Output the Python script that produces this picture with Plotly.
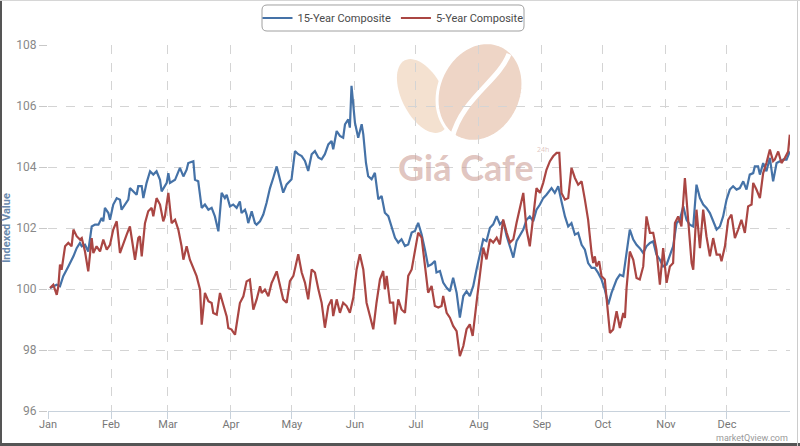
import numpy as np
import plotly.graph_objects as go

# ---------------- data (day of year, indexed value) ----------------
series_15yr = [
    (1.0,100.03),(4.3,100.14),(5.9,100.09),(7.5,100.42),(10.0,100.74),(12.5,101.07),(14.1,101.34),
    (15.7,101.51),(16.6,101.40),(18.2,101.45),(19.8,101.23),(21.5,102.05),(23.1,102.11),(24.8,102.11),
    (26.4,102.33),(27.2,102.22),(28.0,102.66),(29.7,102.49),(30.5,102.27),(32.1,102.77),(33.8,102.98),
    (35.4,102.93),(36.2,102.60),(37.9,102.77),(39.5,102.93),(40.3,103.31),(42.0,103.20),(43.6,103.09),
    (44.4,103.37),(46.1,103.37),(46.9,102.98),(48.5,103.48),(50.2,103.86),(51.8,103.75),(53.4,103.86),
    (55.1,103.58),(55.9,103.20),(58.4,103.48),(59.2,103.80),(60.0,103.48),(62.5,103.58),(64.9,103.97),
    (66.6,103.69),(68.2,103.91),(69.0,104.13),(71.5,104.19),(72.3,103.58),(73.9,103.53),(75.6,102.66),
    (77.2,102.77),(78.9,102.60),(80.5,102.66),(82.1,102.38),(83.8,101.89),(85.4,103.15),(87.0,102.98),
    (87.9,103.09),(89.5,102.71),(91.1,102.77),(92.8,102.66),(94.4,102.87),(95.2,102.49),(96.9,102.60),
    (97.7,102.44),(98.5,102.16),(100.2,102.55),(101.8,102.16),(102.6,102.11),(104.3,102.22),(105.9,102.44),
    (107.5,102.82),(109.2,103.31),(110.8,103.64),(112.5,104.02),
    (115.7,103.16),(117.4,103.43),(119.8,103.60),(121.5,104.52),(123.1,104.42),(124.8,104.36),(126.4,104.20),
    (128.0,103.87),(129.7,104.42),(131.3,104.52),(133.0,104.31),(134.6,104.25),(136.2,104.42),(137.9,104.74),
    (139.5,104.85),(140.3,104.58),(142.0,105.18),(143.6,105.02),(145.2,104.96),(146.1,105.40),(147.7,105.56),
    (148.5,105.29),(149.3,106.66),(150.2,106.00),(151.0,105.45),(152.6,104.96),(154.3,105.40),(155.1,105.07),
    (156.4,104.14),(157.5,103.70),(159.2,103.60),(160.8,103.81),(162.5,102.94),(164.1,103.05),(165.7,102.50),
    (167.4,102.39),(169.0,102.07),(170.7,101.68),(172.3,101.52),(173.9,101.63),(175.6,101.41),(177.2,101.46),
    (178.9,101.85),(180.5,101.90),(182.1,102.17),(183.8,101.79),(185.4,101.30),(187.0,100.75),(188.7,100.81),
    (190.3,100.92),(191.1,100.54),(192.8,100.59),(194.4,100.21),(196.1,100.04),(197.7,99.93),(199.3,100.37),
    (201.0,99.88),(202.6,99.06),(204.3,99.77),(205.9,99.93),(207.5,99.77),(209.2,100.10),(210.8,100.64),
    (212.5,101.14),(214.1,101.63),(215.7,101.57),(217.4,102.01),(219.0,102.12),(220.7,102.39),(222.3,102.12),
    (223.9,102.23),(225.6,101.74),(227.2,101.36),(228.9,101.03),(230.5,101.57),
    (233.8,101.95),(235.4,102.27),(237.0,102.38),(238.7,102.22),(240.3,102.60),(242.0,102.77),(243.6,102.98),
    (245.2,103.09),(247.7,103.31),(249.3,103.15),(251.0,103.37),(252.6,102.87),(254.3,102.38),(255.9,102.05),
    (257.5,102.16),(259.2,101.78),(260.8,101.84),(262.5,101.45),(264.1,101.29),(265.7,100.85),(267.4,100.69),
    (269.0,100.69),(270.7,100.52),(272.3,100.31),(273.9,99.98),(275.6,99.49),(277.2,99.87),(279.7,100.31),
    (281.3,100.47),(283.0,100.42),(284.6,101.18),(286.2,101.95),(287.9,101.62),(289.5,101.45),(291.1,101.34),
    (292.8,101.18),(294.4,101.40),(296.1,101.51),(297.7,101.56),(299.3,101.13),(301.0,100.96),(302.6,100.74),
    (304.3,100.80),(305.9,101.13),(307.5,101.40),(309.2,102.16),(310.8,102.27),(312.5,102.71),(314.1,102.27),
    (315.7,102.11),(317.4,102.05),(319.0,103.42),(320.7,102.98),(322.3,102.77),(323.9,102.66),(325.6,102.49),
    (327.2,102.22),(328.9,101.95),(330.5,102.05),(332.1,102.38),(333.8,102.93),(335.4,103.26),(337.0,103.37),
    (338.7,103.26),(340.3,103.31),(342.0,103.53),(343.6,103.26),(345.2,103.75),(346.9,103.80),(347.7,104.02),
    (349.3,104.02),(350.2,103.75),(351.8,104.13),(353.4,103.86),(355.1,104.30),(356.7,103.53),(358.4,104.13),
    (360.0,104.19),(361.6,104.24),(363.3,104.24),(364.9,104.51),
]

series_5yr = [
    (1.0,100.03),(2.6,100.14),(4.3,99.81),(5.1,100.09),(5.9,100.80),(6.7,100.63),(8.4,101.40),(10.0,101.51),
    (11.6,101.40),(12.5,101.95),(14.1,101.73),(15.7,101.62),(16.6,101.67),(18.2,101.23),(19.8,100.58),
    (21.5,101.67),(22.3,101.18),(23.9,101.40),(25.6,101.23),(27.2,101.62),(28.9,101.29),(30.5,101.45),
    (32.1,101.95),(33.8,102.22),(35.4,101.18),(37.0,101.51),(38.7,101.78),(40.3,102.05),(42.0,101.40),
    (42.8,100.96),(44.4,101.67),(45.2,101.73),(46.1,101.07),(47.7,102.16),(49.3,102.55),(51.0,102.66),
    (51.8,102.38),(53.4,102.98),(55.1,102.77),(56.7,102.22),(57.5,102.38),(59.2,103.15),(60.8,102.16),
    (62.5,102.27),(64.1,101.95),(65.7,101.40),(66.6,100.96),(68.2,101.40),(69.8,100.96),(71.5,100.69),
    (73.1,100.42),(74.8,99.98),(75.6,98.83),(77.2,99.87),(78.9,99.60),(80.5,99.54),(81.3,99.21),(83.0,99.16),
    (84.6,99.87),(86.2,99.49),(87.9,99.10),(88.7,98.72),(90.3,98.67),(92.0,98.50),(93.6,99.32),(94.4,99.54),
    (96.1,99.76),(97.7,100.25),(99.3,100.31),(101.0,99.32),(102.6,99.65),(104.3,100.09),(105.1,99.87),
    (106.7,99.98),(108.4,99.76),(110.0,100.20),(110.8,100.31),(112.5,100.58),
    (115.7,99.66),(117.4,99.55),(119.0,100.26),(120.7,100.43),(123.1,101.14),(124.8,100.54),(126.4,100.21),
    (128.0,99.66),(129.7,100.64),(131.3,100.54),(133.0,99.99),(134.6,99.55),(136.2,98.73),(137.9,99.44),
    (139.5,99.66),(140.3,99.11),(142.0,99.66),(143.6,99.22),(145.2,99.55),(146.9,99.44),(148.5,99.22),
    (150.2,99.72),(151.8,100.64),(153.4,101.14),(155.1,100.64),(156.7,99.55),(158.4,99.11),(160.0,98.68),
    (161.6,99.55),(163.3,100.32),(164.9,100.59),(165.7,99.99),(166.6,100.43),(168.2,99.55),(169.8,99.55),
    (170.7,98.84),(172.3,99.66),(173.9,99.33),(175.6,99.22),(177.2,100.43),(178.9,100.64),(180.5,101.25),
    (182.1,101.85),(183.8,101.68),(185.4,100.75),(187.0,99.88),(188.7,100.10),(190.3,99.44),(192.0,99.39),
    (193.6,99.44),(194.4,99.77),(196.1,99.22),(197.7,99.06),(199.3,98.79),(201.0,98.62),(202.6,97.80),
    (204.3,98.13),(205.9,98.68),(207.5,98.84),(208.9,98.46),(210.8,99.55),(212.5,100.54),(214.1,101.36),
    (215.7,100.97),(217.4,101.63),(219.0,101.52),(220.7,101.68),(222.3,101.46),(223.9,102.28),(225.6,101.85),
    (227.2,101.52),(228.9,101.63),(230.5,102.17),
    (233.8,103.15),(235.4,101.95),(237.0,101.40),(238.7,102.49),(240.3,103.31),(242.0,103.15),(243.6,103.48),
    (245.2,103.91),(246.9,104.19),(248.5,104.35),(250.2,104.46),(251.5,104.46),(252.6,103.15),(254.3,102.93),
    (255.9,102.98),(257.5,103.97),(259.2,103.64),(260.8,103.42),(262.5,103.53),(264.1,102.93),(265.7,102.27),
    (267.4,101.18),(268.2,100.85),(269.0,101.07),(269.8,100.74),(271.1,100.91),(272.3,100.42),(273.9,100.31),
    (274.8,99.60),(276.4,98.56),(278.0,98.67),(279.7,99.27),(281.3,98.72),(283.0,99.21),(283.8,99.05),
    (284.6,100.03),(286.2,101.23),(287.9,100.96),(289.5,100.36),(291.1,100.31),(292.8,100.74),(294.4,102.38),
    (296.1,101.84),(297.7,101.84),(299.3,101.29),(301.0,100.14),(302.6,101.34),(304.3,100.20),(305.9,100.74),
    (307.5,100.85),(308.4,102.16),(310.0,102.38),(311.6,102.05),(313.3,103.64),(314.9,102.27),(316.6,100.85),
    (317.4,100.63),(319.0,102.60),(320.7,101.34),(322.3,102.60),(323.9,101.73),(325.6,101.07),(327.2,101.67),
    (328.9,101.13),(330.5,101.13),(331.3,100.91),(333.0,101.40),(334.6,102.27),(336.2,102.44),(337.9,101.67),
    (339.5,101.95),(341.1,102.27),(342.8,101.84),(344.4,102.71),(346.1,102.77),(346.9,103.48),(348.5,103.26),
    (350.2,102.98),(351.8,103.80),(353.4,104.13),(355.1,104.57),(356.7,104.19),(357.5,104.24),(359.2,104.51),
    (360.8,104.13),(362.5,104.30),(364.1,104.51),(364.9,105.06),
]

month_starts = [0, 31, 59, 90, 120, 151, 181, 212, 243, 273, 304, 334]
month_labels = ["Jan", "Feb", "Mar", "Apr", "May", "Jun", "Jul", "Aug", "Sep", "Oct", "Nov", "Dec"]
y_ticks = [96, 98, 100, 102, 104, 106, 108]
names = ["15-Year Composite", "5-Year Composite"]
colors = ["#4572A7", "#AA4643"]

# ---------------- layout geometry helpers ----------------
W, H = 800, 446
ML, MR, MT, MB = 48, 10, 45, 35
PW, PH = W - ML - MR, H - MT - MB


def X(px):
    return (px - ML) / PW


def Y(py):
    return (H - MB - py) / PH


def ellipse_path(cx, cy, a, b, ang_deg, n=72):
    t = np.linspace(0, 2 * np.pi, n, endpoint=False)
    ang = np.radians(ang_deg)
    xs = cx + a * np.cos(t) * np.cos(ang) - b * np.sin(t) * np.sin(ang)
    ys = cy + a * np.cos(t) * np.sin(ang) + b * np.sin(t) * np.cos(ang)
    pts = [f"{X(x):.5f},{Y(y):.5f}" for x, y in zip(xs, ys)]
    return "M " + " L ".join(pts) + " Z"


def rounded_rect(x0, y0, x1, y1, r):
    p = [
        f"M {X(x0 + r):.5f},{Y(y0):.5f}",
        f"L {X(x1 - r):.5f},{Y(y0):.5f}",
        f"Q {X(x1):.5f},{Y(y0):.5f} {X(x1):.5f},{Y(y0 + r):.5f}",
        f"L {X(x1):.5f},{Y(y1 - r):.5f}",
        f"Q {X(x1):.5f},{Y(y1):.5f} {X(x1 - r):.5f},{Y(y1):.5f}",
        f"L {X(x0 + r):.5f},{Y(y1):.5f}",
        f"Q {X(x0):.5f},{Y(y1):.5f} {X(x0):.5f},{Y(y1 - r):.5f}",
        f"L {X(x0):.5f},{Y(y0 + r):.5f}",
        f"Q {X(x0):.5f},{Y(y0):.5f} {X(x0 + r):.5f},{Y(y0):.5f} Z",
    ]
    return " ".join(p)


FONT = "Roboto, Liberation Sans, sans-serif"

fig = go.Figure()
for series, name, col in zip([series_15yr, series_5yr], names, colors):
    days = [d for d, _ in series]
    vals = [v for _, v in series]
    fig.add_trace(go.Scatter(x=days, y=vals, mode="lines", name=name,
                             line=dict(color=col, width=2.2)))

shapes = []
# watermark beans
shapes.append(dict(type="path", xref="paper", yref="paper", layer="below",
                   path=ellipse_path(423, 96, 40, 21, 63),
                   fillcolor="#f4e1d0", line=dict(width=0)))
shapes.append(dict(type="path", xref="paper", yref="paper", layer="below",
                   path=ellipse_path(480, 92, 51, 41, -65),
                   fillcolor="#eed5c6", line=dict(color="white", width=3)))
shapes.append(dict(type="path", xref="paper", yref="paper", layer="below",
                   path=(f"M {X(509):.5f},{Y(54):.5f} C {X(498):.5f},{Y(82):.5f} "
                         f"{X(462):.5f},{Y(98):.5f} {X(452):.5f},{Y(138):.5f}"),
                   line=dict(color="white", width=5)))
# legend box
shapes.append(dict(type="path", xref="paper", yref="paper",
                   path=rounded_rect(262, 5, 524, 31, 5),
                   line=dict(color="#a0a0a0", width=1)))
# outer frame
shapes.append(dict(type="line", xref="paper", yref="paper", x0=X(1), x1=X(1), y0=Y(0), y1=Y(446),
                   line=dict(color="#555555", width=2)))
shapes.append(dict(type="line", xref="paper", yref="paper", x0=X(0), x1=X(800), y0=Y(444.5), y1=Y(444.5),
                   line=dict(color="#555555", width=3)))
shapes.append(dict(type="line", xref="paper", yref="paper", x0=X(797.5), x1=X(797.5), y0=Y(0), y1=Y(446),
                   line=dict(color="#cccccc", width=1)))
shapes.append(dict(type="line", xref="paper", yref="paper", x0=X(0), x1=X(800), y0=Y(0.5), y1=Y(0.5),
                   line=dict(color="#d6d6d6", width=1)))

annotations = [
    dict(text="<b>Giá Cafe</b>", xref="paper", yref="paper", x=X(466), y=Y(167),
         xanchor="center", yanchor="middle", showarrow=False,
         font=dict(family="Lato, Noto Sans, sans-serif", size=36, color="rgba(205,160,152,0.62)")),
    dict(text="24h", xref="paper", yref="paper", x=X(543), y=Y(149),
         xanchor="center", yanchor="middle", showarrow=False,
         font=dict(family="Noto Sans, sans-serif", size=7, color="rgba(205,160,152,0.6)")),
    dict(text="marketQview.com", xref="paper", yref="paper", x=X(790), y=Y(438),
         xanchor="right", yanchor="middle", showarrow=False,
         font=dict(family=FONT, size=9, color="#999999")),
]

fig.update_layout(
    width=W, height=H,
    margin=dict(l=ML, r=MR, t=MT, b=MB, autoexpand=False),
    paper_bgcolor="white", plot_bgcolor="white",
    font=dict(family=FONT, size=11, color="#666666"),
    showlegend=True,
    legend=dict(orientation="h", x=X(393), xanchor="center", y=Y(18), yanchor="middle",
                bgcolor="rgba(0,0,0,0)", borderwidth=0,
                font=dict(family=FONT, size=11, color="#4a4a4a")),
    shapes=shapes,
    annotations=annotations,
    xaxis=dict(range=[0, 365], tickmode="array", tickvals=month_starts, ticktext=month_labels,
               showgrid=True, gridcolor="#d4d4d4", griddash="dash", gridwidth=1,
               ticks="outside", ticklen=7, tickcolor="#c8d2dc", ticklabelstandoff=-4,
               showline=True, linecolor="#c8d2dc", linewidth=1, zeroline=False,
               tickfont=dict(family=FONT, size=11, color="#777777"), automargin=False),
    yaxis=dict(range=[96, 108], tickmode="array", tickvals=y_ticks,
               showgrid=True, gridcolor="#d4d4d4", griddash="dash", gridwidth=1,
               ticks="outside", ticklen=8, tickcolor="#c8c8c8",
               showline=False, zeroline=False,
               tickfont=dict(family=FONT, size=12, color="#888888"),
               title=dict(text="Indexed Value", standoff=6,
                          font=dict(family=FONT, size=11, color="#6a8aae", weight="bold")),
               automargin=False),
)

fig.write_html("out.html")
